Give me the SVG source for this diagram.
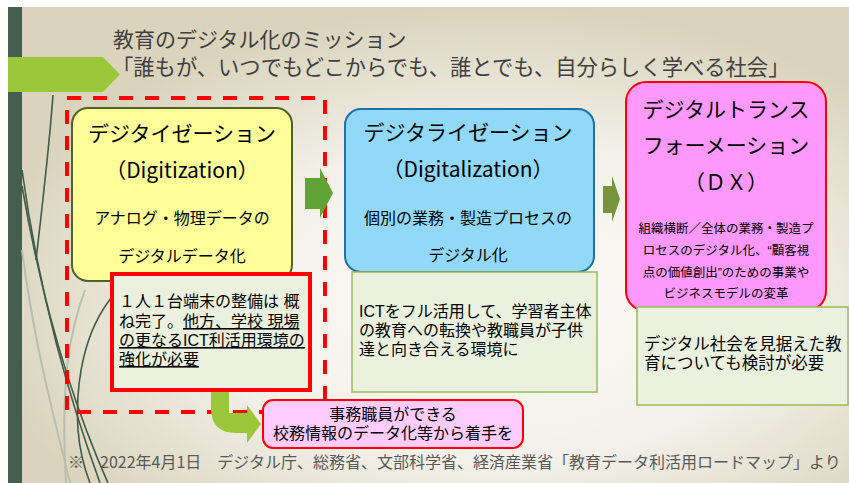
<svg xmlns="http://www.w3.org/2000/svg" width="849" height="483" viewBox="0 0 849 483">
<defs>
<radialGradient id="bg" cx="0.58" cy="0.62" r="0.62">
<stop offset="0" stop-color="#FCFCFA"/>
<stop offset="0.55" stop-color="#F2F0E8"/>
<stop offset="1" stop-color="#DAD4BD"/>
</radialGradient>
<style>
text{font-family:"Noto Sans CJK JP","Noto Sans",sans-serif;fill:#000}
text.ml{font-family:"Liberation Sans","Noto Sans CJK JP",sans-serif}
.title{font-size:21px;fill:#404040}
.big{font-size:21px;text-anchor:middle}
.mid{font-size:16px;text-anchor:middle}
.sm{font-size:12.5px;text-anchor:middle}
.body{font-size:16px}
.note{fill:#EBF1DE;stroke:#9BBB59;stroke-width:1.5}
.deco{fill:none;stroke:#3F5B4A;stroke-width:1.6}
.decoL{fill:none;stroke:#B9BFAE;stroke-width:2}
</style>
</defs>
<rect x="0" y="0" width="849" height="483" fill="#FFFFFF"/>
<rect x="8" y="7" width="841" height="476" fill="url(#bg)"/>
<rect x="8" y="7" width="14" height="476" fill="#455F4F"/>
<g id="decor">
<path class="decoL" d="M22,250 C35,350 55,420 70,483"/>
<path class="decoL" d="M85,290 C70,330 60,380 66,483"/>
<path class="deco" d="M53,95 C49,150 43,200 36,260" stroke-width="1"/>
<path class="deco" d="M22,170 C40,300 70,400 100,483"/>
<path class="deco" d="M22,186 C45,320 80,420 108,483"/>
<path class="deco" d="M112,297 C85,330 75,380 78,430 C80,455 85,470 90,483"/>
</g>
<path d="M8,57 L103,57 L120,74.5 L103,92 L8,92 Z" fill="#9BC83A"/>
<g id="title">
<text class="title ml" x="113" y="47">教育のデジタル化のミッション</text>
<text class="title ml" x="112" y="75" style="font-size:21.3px">「誰もが、いつでもどこからでも、誰とでも、自分らしく学べる社会」</text>
</g>
<rect id="dashed-frame" x="67" y="98" width="258" height="314" fill="none" stroke="#FF0000" stroke-width="4" stroke-dasharray="14 12"/>
<g id="connectors">
<path d="M305,178 L320,178 L320,168 L333,193 L320,218 L320,209 L305,209 Z" fill="#62A338"/>
<path d="M603,186 L612,186 L612,176 L620,199 L612,222 L612,213 L603,213 Z" fill="#77933C"/>
<path d="M211,389 L229,389 L229,413 L247,413 L247,405 L261,424 L247,443 L247,433 L236,433 Q211,433 211,408 Z" fill="#9BC83A"/>
</g>
<g id="digitization">
<rect x="72" y="108" width="220" height="173" rx="16" fill="#FFFF99" stroke="#4F6228" stroke-width="2"/>
<text class="big" x="182" y="141">デジタイゼーション</text>
<text class="big" x="182" y="178">（Digitization）</text>
<text class="mid" x="182" y="224">アナログ・物理データの</text>
<text class="mid" x="182" y="262">デジタルデータ化</text>
</g>
<g id="digitalization">
<rect x="345" y="109" width="249" height="163" rx="16" fill="#92D8F8" stroke="#1F6FA8" stroke-width="2"/>
<text class="big" x="468" y="140">デジタライゼーション</text>
<text class="big" x="468" y="177">（Digitalization）</text>
<text class="mid" x="468" y="224">個別の業務・製造プロセスの</text>
<text class="mid" x="468" y="261">デジタル化</text>
</g>
<g id="dx">
<rect x="626" y="82" width="200" height="229" rx="20" fill="#FF99FF" stroke="#FF0000" stroke-width="2"/>
<text class="big" x="726" y="117">デジタルトランス</text>
<text class="big" x="726" y="153">フォーメーション</text>
<text class="big" x="726" y="190">（ＤＸ）</text>
<text class="sm ml" x="726" y="233">組織横断／全体の業務・製造プ</text>
<text class="sm ml" x="726" y="255">ロセスのデジタル化、“顧客視</text>
<text class="sm ml" x="726" y="277">点の価値創出”のための事業や</text>
<text class="sm ml" x="726" y="298">ビジネスモデルの変革</text>
</g>
<g id="note1">
<rect x="112" y="274" width="198" height="116" fill="#EBF1DE" stroke="#FF0000" stroke-width="4"/>
<text class="body ml" x="119" y="307">１人１台端末の整備は 概</text>
<text class="body ml" x="119" y="327">ね完了。<tspan text-decoration="underline">他方、学校 現場</tspan></text>
<text class="body ml" x="119" y="346" text-decoration="underline">の更なるICT利活用環境の</text>
<text class="body ml" x="119" y="365" text-decoration="underline">強化が必要</text>
</g>
<g id="note2">
<rect class="note" x="352" y="272" width="245" height="120"/>
<text class="body ml" x="359" y="317">ICTをフル活用して、学習者主体</text>
<text class="body ml" x="359" y="336">の教育への転換や教職員が子供</text>
<text class="body ml" x="359" y="355">達と向き合える環境に</text>
</g>
<g id="note3">
<rect class="note" x="637" y="307" width="211" height="98"/>
<text class="body ml" x="644" y="350" style="font-size:16.5px">デジタル社会を見据えた教</text>
<text class="body ml" x="644" y="369" style="font-size:16.5px">育についても検討が必要</text>
</g>
<g id="staff">
<rect x="263" y="400" width="260" height="48" rx="10" fill="#FFCCFF" stroke="#FF0000" stroke-width="2"/>
<text class="mid ml" x="393" y="420">事務職員ができる</text>
<text class="mid ml" x="393" y="439">校務情報のデータ化等から着手を</text>
</g>
<text id="footer" x="68" y="468" font-size="16" style="fill:#595959">※　2022年4月1日　デジタル庁、総務省、文部科学省、経済産業省「教育データ利活用ロードマップ」より</text>
</svg>
